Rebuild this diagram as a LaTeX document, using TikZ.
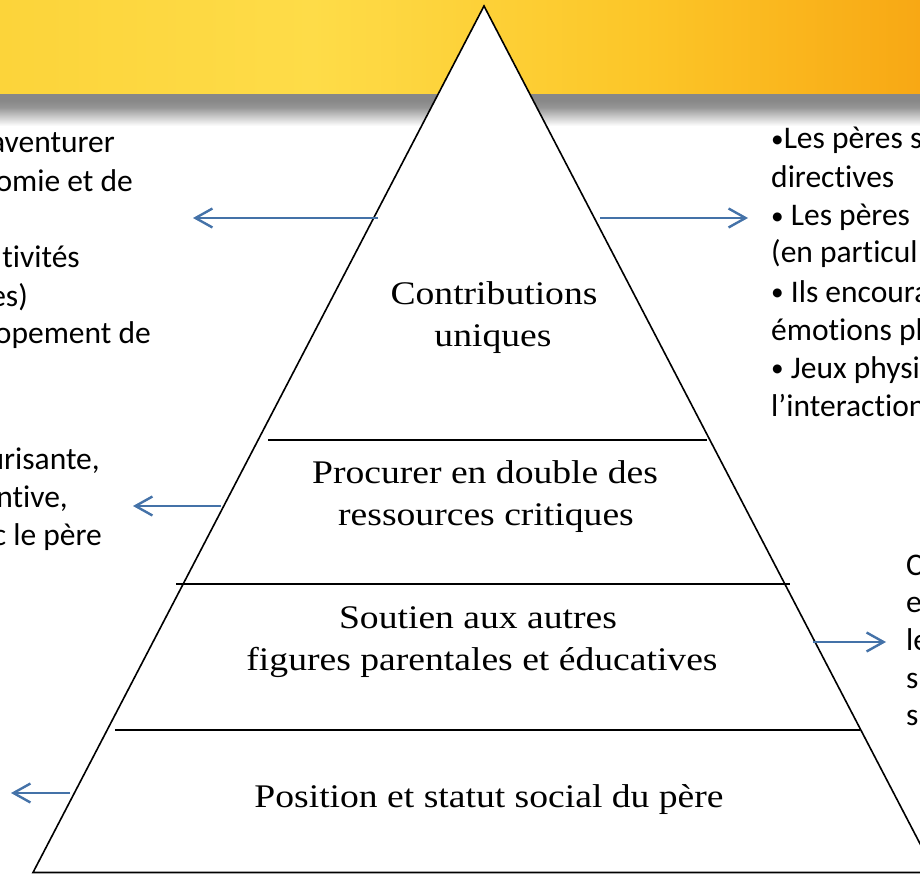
\documentclass[tikz,border=0pt]{standalone}
\usepackage{fontspec}
\setmainfont{Liberation Serif}
\newfontfamily\sidefont[RawFeature=-liga]{Carlito}
\newfontfamily\pyrfont[FakeStretch=1.14]{Liberation Serif}
\usetikzlibrary{arrows.meta}
\definecolor{arrowblue}{RGB}{68,114,168}
\definecolor{gA}{RGB}{252,212,58}
\definecolor{gB}{RGB}{254,220,72}
\definecolor{gC}{RGB}{252,198,40}
\definecolor{gD}{RGB}{248,168,20}
\definecolor{grA}{RGB}{136,136,136}
\definecolor{grB}{RGB}{150,150,150}
\pgfdeclarehorizontalshading{goldband}{100bp}{color(0bp)=(gA); color(25bp)=(gA); color(42bp)=(gB); color(60bp)=(gC); color(75bp)=(gD); color(100bp)=(gD)}
\pgfdeclareverticalshading{greyband}{100bp}{color(0bp)=(white); color(25bp)=(white); color(55bp)=(grB); color(66bp)=(grA); color(75bp)=(grA); color(100bp)=(grA)}
\newcommand{\smbul}{\raisebox{0.1ex}{\scalebox{0.8}{•}}}
\tikzset{
  pyrtext/.style={anchor=base, inner sep=0pt, font=\pyrfont\fontsize{33}{38}\selectfont},
  sidetextL/.style={anchor=base east, inner sep=0pt, font=\sidefont\fontsize{31.5}{38}\selectfont},
  sidetextR/.style={anchor=base west, inner sep=0pt, font=\sidefont\fontsize{31.5}{38}\selectfont},
  arr/.style={draw=arrowblue, line width=2.4pt, -{Straight Barb[length=17pt,width=19pt,line width=2.4pt]}},
  tier/.style={line width=1.6pt}
}
\begin{document}
\begin{tikzpicture}[x=1pt,y=-1pt]
\useasboundingbox (0,0) rectangle (920,874);
\clip (0,0) rectangle (920,874);
% header
\shade[shading=goldband] (0,0) rectangle (920,96);
\shade[shading=greyband] (0,95) rectangle (920,126);
% pyramid
\draw[tier, fill=white, line join=miter] (484,6) -- (33,872.5) -- (935,872.5) -- cycle;
\draw[tier] (268,440) -- (707,440);
\draw[tier] (176,584) -- (790,584);
\draw[tier] (115,730) -- (860,730);
% pyramid texts
\node[pyrtext] (c1) at (494,305) {Contributions};
\node[pyrtext] (c2) at (493,346) {uniques};
\node[pyrtext] (p1) at (485,483) {Procurer en double des};
\node[pyrtext] (p2) at (486,525) {ressources critiques};
\node[pyrtext] (s1) at (478,628) {Soutien aux autres};
\node[pyrtext] (s2) at (482,670) {figures parentales et éducatives};
\node[pyrtext] (ps) at (489,807) {Position et statut social du père};
% left texts
\node[sidetextL] (l1) at (115,153) {aventurer};
\node[sidetextL] (l2) at (133,192) {omie et de};
\node[sidetextL] (l3) at (80,268) {tivités};
\node[sidetextL] (l4) at (28,306) {es)};
\node[sidetextL] (l5) at (151,343) {opement de};
\node[sidetextL] (m1) at (100,469) {urisante,};
\node[sidetextL] (m2) at (68,507) {ntive,};
\node[sidetextL] (m3) at (102,545) {c le père};
% right texts
\node[sidetextR] (r1) at (771,149) {\smbul Les pères s};
\node[sidetextR] (r2) at (771,188) {directives};
\node[sidetextR] (r3) at (771,226) {\smbul{} Les pères};
\node[sidetextR] (r4) at (771,263) {(en particul};
\node[sidetextR] (r5) at (771,302) {\smbul{} Ils encoura};
\node[sidetextR] (r6) at (771,340) {émotions pl};
\node[sidetextR] (r7) at (771,378) {\smbul{} Jeux physi};
\node[sidetextR] (r8) at (771,416) {l’interaction};
\node[sidetextR] (b1) at (906,575) {C};
\node[sidetextR] (b2) at (906,612) {e};
\node[sidetextR] (b3) at (906,650) {le};
\node[sidetextR] (b4) at (906,688) {s};
\node[sidetextR] (b5) at (906,725) {s};
% arrows
\coordinate (a1s) at (378,218); \coordinate (a1e) at (193,218);
\coordinate (a2s) at (600,218); \coordinate (a2e) at (748,218);
\coordinate (a3s) at (221,506); \coordinate (a3e) at (133,506);
\coordinate (a4s) at (813,642); \coordinate (a4e) at (886,642);
\coordinate (a5s) at (70,793);  \coordinate (a5e) at (11,793);
\draw[arr] (a1s) -- (a1e);
\draw[arr] (a2s) -- (a2e);
\draw[arr] (a3s) -- (a3e);
\draw[arr] (a4s) -- (a4e);
\draw[arr] (a5s) -- (a5e);
\end{tikzpicture}
\end{document}
